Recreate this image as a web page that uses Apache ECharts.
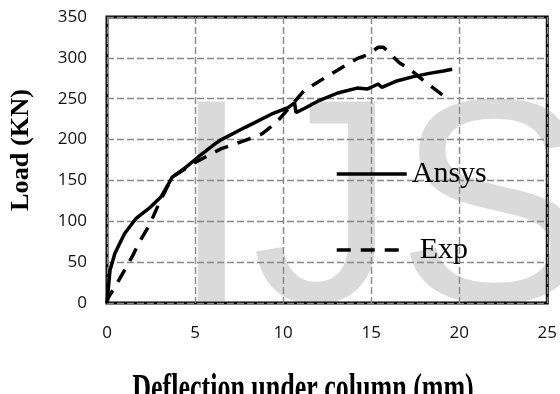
<!DOCTYPE html>
<html>
<head>
<meta charset="utf-8">
<script src="https://cdn.jsdelivr.net/npm/echarts@6/dist/echarts.min.js"></script>
<style>
  html, body { margin: 0; padding: 0; background: #fff; }
  #chart { width: 560px; height: 394px; }
</style>
</head>
<body>
<div id="chart"></div>
<script>
// values
var ansysX = [0, 0.17, 0.45, 1.0, 1.67, 2.4, 3.07, 3.5, 3.7, 4.1, 4.47, 5.2, 6.15, 6.5, 7.85, 9.33, 10.28, 10.65, 10.73, 11.2, 11.97, 13.1, 14.2, 14.8, 15.4, 15.6, 16.5, 17.4, 18.3, 19.1, 19.6];
var ansysY = [0, 40, 61, 85, 104, 116, 130, 146, 154, 160, 166, 179, 195, 200, 215, 231, 239, 245, 233, 238, 247, 257, 263, 262, 268, 264, 272, 277, 281, 284, 286];
var expX = [0, 0.06, 0.73, 1.1, 1.46, 1.85, 2.4, 3.0, 3.7, 5.0, 6.5, 7.85, 8.8, 9.16, 9.7, 11.2, 12.7, 14.2, 14.8, 15.4, 15.7, 16.6, 17.2, 18.1, 19.45];
var expY = [0, 6, 30, 44, 58, 75, 95, 124, 154, 172, 189, 199, 207, 213, 223, 260, 280, 299, 304, 313, 313, 294, 286, 270, 248];
var seriesNames = ['Ansys', 'Exp'];
var xTitle = 'Deflection under column (mm)';
var yTitle = 'Load (KN)';

function pairs(xs, ys) {
  var out = [];
  for (var i = 0; i < xs.length; i++) {
    out.push([xs[i], ys[i]]);
  }
  return out;
}

var myChart = echarts.init(document.getElementById('chart'));

var labelStyle = { fontFamily: 'Open Sans', fontSize: 17, color: '#111' };
var gridLine = { show: true, lineStyle: { color: '#888', width: 1.4, type: [7, 3] } };
var legendText = { fontFamily: 'Liberation Serif', fontSize: 30, color: '#000', lineHeight: 30 };

var option = {
  animation: false,
  backgroundColor: '#fff',
  grid: {
    left: 107, right: 8, top: 17, bottom: 91,
    show: true, borderColor: '#000', borderWidth: 3
  },
  xAxis: {
    type: 'value', min: 0, max: 25, interval: 5,
    axisLine: { show: false }, axisTick: { show: false },
    axisLabel: Object.assign({ margin: 22 }, labelStyle),
    splitLine: gridLine
  },
  yAxis: {
    type: 'value', min: 0, max: 350, interval: 50,
    axisLine: { show: false }, axisTick: { show: false },
    axisLabel: Object.assign({ margin: 20 }, labelStyle),
    splitLine: gridLine
  },
  legend: [
    {
      data: [seriesNames[0]], left: 335, top: 159, padding: 0,
      itemWidth: 70, itemHeight: 14, textStyle: legendText,
      itemStyle: { opacity: 0 },
      lineStyle: { width: 3.5 }
    },
    {
      data: [seriesNames[1]], left: 335, top: 235, padding: 0,
      itemWidth: 70, itemHeight: 14,
      itemStyle: { opacity: 0 },
      lineStyle: { width: 3.5 },
      textStyle: Object.assign({ padding: [0, 0, 0, 8] }, legendText)
    }
  ],
  graphic: [
    {
      type: 'text', z: -10, silent: true,
      x: 171, y: 221,
      style: {
        text: 'IJS', fontFamily: 'Liberation Sans', fontSize: 290,
        fill: 'rgb(218,218,218)', textVerticalAlign: 'middle'
      }
    },
    {
      type: 'text', z: 100,
      x: 22, y: 150, rotation: Math.PI / 2, scaleX: 1.05,
      style: {
        text: yTitle, fontFamily: 'Liberation Serif', fontWeight: 'bold',
        fontSize: 25, fill: '#000', textAlign: 'center', textVerticalAlign: 'middle'
      }
    },
    {
      type: 'text', z: 100,
      x: 303, y: 391, scaleY: 1.5,
      style: {
        text: xTitle, fontFamily: 'Liberation Serif', fontWeight: 'bold',
        fontSize: 26, fill: '#000', textAlign: 'center', textVerticalAlign: 'middle'
      }
    }
  ],
  series: [
    {
      name: seriesNames[0], type: 'line', symbol: 'none',
      data: pairs(ansysX, ansysY),
      lineStyle: { color: '#000', width: 3.5 },
      itemStyle: { color: '#000' }
    },
    {
      name: seriesNames[1], type: 'line', symbol: 'none',
      data: pairs(expX, expY),
      lineStyle: { color: '#000', width: 3.5, type: [14, 10] },
      itemStyle: { color: '#000' }
    }
  ]
};

myChart.setOption(option);
</script>
</body>
</html>
